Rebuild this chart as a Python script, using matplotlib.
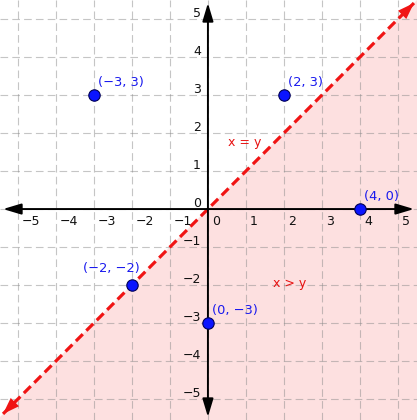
import matplotlib
matplotlib.use("Agg")
import matplotlib.pyplot as plt
import numpy as np

# ---- data ----
ticks = [-5, -4, -3, -2, -1, 0, 1, 2, 3, 4, 5]
tick_labels = ["−5", "−4", "−3", "−2", "−1", "0", "1", "2", "3", "4", "5"]
point_x = [-3, 2, 4, -2, 0]
point_y = [3, 3, 0, -2, -3]
point_labels = ["(−3, 3)", "(2, 3)", "(4, 0)", "(−2, −2)", "(0, −3)"]
boundary_x = [-5.39, 5.42]
boundary_y = [-5.39, 5.42]          # y = x
boundary_label = "x = y"
boundary_label_pos = (0.96, 1.74)
region_label = "x > y"
region_label_pos = (2.14, -1.97)

plt.rcParams['lines.scale_dashes'] = False
fig = plt.figure(figsize=(4.17, 4.20), dpi=100)
ax = fig.add_axes([0, 0, 1, 1])
ax.set_xlim(-5.47, 5.50)
ax.set_ylim(-5.55, 5.50)

# shaded region x > y
fx = np.array([-6.0, 6.0])
ax.fill_between(fx, fx, -6.0, color='#fde0e0', zorder=1, lw=0)

# grid
ax.set_xticks(ticks)
ax.set_yticks(ticks)
ax.tick_params(length=0, labelbottom=False, labelleft=False)
for s in ax.spines.values():
    s.set_visible(False)
ax.grid(True, color='#8c8c8c', alpha=0.5, lw=0.8, linestyle=(0, (5.5, 3)), zorder=2)
ax.set_axisbelow(False)

# axes with arrows
arrow_kw = dict(arrowstyle='<|-|>,head_length=1.1,head_width=0.33', mutation_scale=10,
                color='black', lw=1.4, shrinkA=0, shrinkB=0)
ax.annotate('', xy=(5.42, 0), xytext=(-5.39, 0), arrowprops=arrow_kw, zorder=4)
ax.annotate('', xy=(0, 5.42), xytext=(0, -5.47), arrowprops=arrow_kw, zorder=4)

# tick labels
for t, lab in zip(ticks, tick_labels):
    ax.annotate(lab, xy=(t, 0), xytext=(4, -12), textcoords='offset pixels',
                ha='left', va='center', fontsize=9, color='#111111', zorder=5)
    ax.annotate(lab, xy=(0, t), xytext=(-7, 6), textcoords='offset pixels',
                ha='right', va='center', fontsize=9, color='#111111', zorder=5)

# boundary line y = x (dashed) with arrow heads
ax.plot(boundary_x, boundary_y, color='#f01414', lw=2.3, dashes=(7, 3.6),
        solid_capstyle='butt', dash_capstyle='butt', zorder=3)
head_kw = dict(arrowstyle='<|-|>,head_length=1.2,head_width=0.42', mutation_scale=10,
               color='#f01414', lw=0.01, shrinkA=0, shrinkB=0)
ax.annotate('', xy=(boundary_x[1], boundary_y[1]), xytext=(boundary_x[0], boundary_y[0]),
            arrowprops=head_kw, zorder=3)

ax.text(*boundary_label_pos, boundary_label, color='#e81010', fontsize=9,
        ha='center', va='center', zorder=5)
ax.text(*region_label_pos, region_label, color='#e81010', fontsize=9,
        ha='center', va='center', zorder=5)

# points
ax.plot(point_x, point_y, 'o', ms=8.2, mfc='#0a14ff', mec='#000055', mew=0.8,
        zorder=6, clip_on=False)
for px, py, lab in zip(point_x, point_y, point_labels):
    if lab.startswith("(−2"):
        off, ha = (-21, 17), 'center'
    else:
        off, ha = (4, 13), 'left'
    ax.annotate(lab, xy=(px, py), xytext=off, textcoords='offset pixels',
                ha=ha, va='center', fontsize=9.4, color='#1a1aee', zorder=7)

fig.savefig('out.png', dpi=100)
